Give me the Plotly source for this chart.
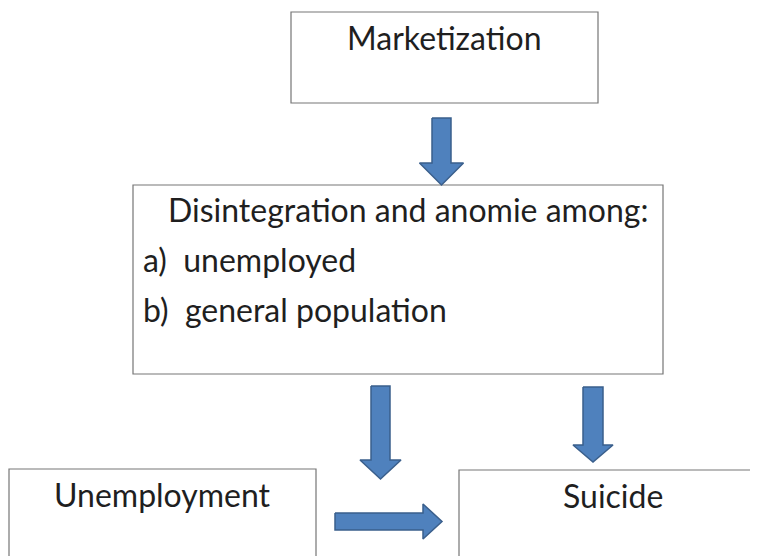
import plotly.graph_objects as go

# boxes: label, x0, x1, y0, y1 (pixel-like units, y grows downward)
box_labels = ["Marketization", "", "Unemployment", "Suicide"]
box_x0 = [291, 133, 9, 459]
box_x1 = [598, 663, 316, 780]
box_y0 = [12, 185, 469, 470]
box_y1 = [103, 374, 600, 600]

# text lines inside the middle box
mid_lines = ["Disintegration and anomie among:", "a)  unemployed", "b)  general population"]
mid_x = [166, 141, 141]
mid_y = [209, 259, 309]

# down arrows: centre x, top, head start, tip, shaft half width, head half width
down_cx = [441.5, 380.5, 593]
down_top = [118, 386, 387]
down_head = [163, 460, 445]
down_tip = [185, 479, 462]
down_sw = [9.5, 9.5, 10]
down_hw = [22, 20.5, 20]

# right arrow: centre y, left, head start, tip, shaft half height, head half height
right_cy = [521.5]
right_left = [335]
right_head = [423]
right_tip = [442]
right_sw = [8.5]
right_hw = [17.5]

FONT = "Lato"
FS = 32
TXT = "#1f1f1f"
BLUE = "#4f81bd"
EDGE = "#3a5f8c"
PAD = 8  # page body margin of the html

fig = go.Figure()

for i in range(len(down_cx)):
    c, t, h, p, s, w = down_cx[i], down_top[i], down_head[i], down_tip[i], down_sw[i], down_hw[i]
    xs = [c - s, c + s, c + s, c + w, c, c - w, c - s, c - s]
    ys = [t, t, h, h, p, h, h, t]
    fig.add_trace(go.Scatter(x=xs, y=ys, mode="lines", fill="toself",
        fillcolor=BLUE, line=dict(color=EDGE, width=1.5),
        hoverinfo="skip", showlegend=False))

for i in range(len(right_cy)):
    c, l, h, p, s, w = right_cy[i], right_left[i], right_head[i], right_tip[i], right_sw[i], right_hw[i]
    xs = [l, h, h, p, h, h, l, l]
    ys = [c - s, c - s, c - w, c, c + w, c + s, c + s, c - s]
    fig.add_trace(go.Scatter(x=xs, y=ys, mode="lines", fill="toself",
        fillcolor=BLUE, line=dict(color=EDGE, width=1.5),
        hoverinfo="skip", showlegend=False))

for i, lab in enumerate(box_labels):
    fig.add_shape(type="rect", x0=box_x0[i], x1=box_x1[i], y0=box_y0[i], y1=box_y1[i],
        line=dict(color="#767676", width=1.2), fillcolor="rgba(0,0,0,0)", layer="below")
    if lab:
        cx = (box_x0[i] + min(box_x1[i], 767)) / 2
        fig.add_annotation(x=cx, y=box_y0[i] + 25,
            text=lab, showarrow=False, xanchor="center", yanchor="middle",
            font=dict(family=FONT, size=FS, color=TXT))

for i, line in enumerate(mid_lines):
    fig.add_annotation(x=mid_x[i], y=mid_y[i], text=line, showarrow=False,
        xanchor="left", yanchor="middle",
        font=dict(family=FONT, size=FS, color=TXT))

fig.update_xaxes(range=[PAD, 758], visible=False, fixedrange=True)
fig.update_yaxes(range=[556, PAD], visible=False, fixedrange=True)
fig.update_layout(width=758 - PAD, height=556 - PAD, margin=dict(l=0, r=0, t=0, b=0),
    plot_bgcolor="white", paper_bgcolor="white")

fig.write_html("out.html")
